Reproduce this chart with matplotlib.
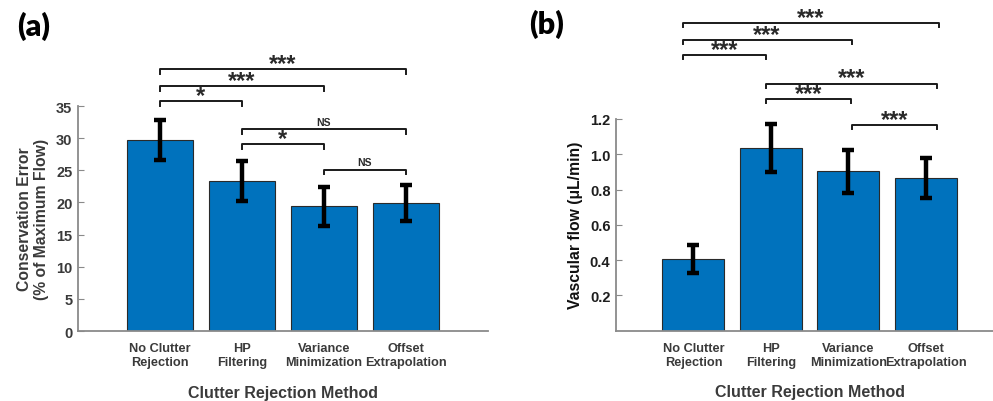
import numpy as np
import matplotlib
matplotlib.use("Agg")
import matplotlib.pyplot as plt

# data
methods = ["No Clutter\nRejection", "HP\nFiltering", "Variance\nMinimization", "Offset\nExtrapolation"]

cons_err = [29.7, 23.4, 19.4, 19.85]
cons_sd = [3.1, 3.1, 3.05, 2.8]

vflow = [0.407, 1.035, 0.904, 0.865]
vflow_sd = [0.078, 0.136, 0.121, 0.115]

# significance brackets: (x start, x end, height, label)
sig_a = [(1, 4, 40.7, "***"), (1, 3, 38.1, "***"), (1, 2, 35.8, "*"),
         (2, 4, 31.4, "NS"), (2, 3, 29.1, "*"), (3, 4, 25.1, "NS")]
sig_b = [(0.86, 4.17, 1.743, "***"), (0.86, 3.04, 1.646, "***"), (0.86, 1.94, 1.561, "***"),
         (1.94, 4.14, 1.401, "***"), (1.94, 3.03, 1.312, "***"), (3.05, 4.14, 1.165, "***")]

plt.rcParams['font.family'] = ['Liberation Sans', 'DejaVu Sans']
plt.rcParams['font.weight'] = 'bold'

bar_col = '#0072BD'
spine_col = '#8a8a8a'

fig = plt.figure(figsize=(9.93, 4.02), dpi=100)
ax1 = fig.add_axes([0.0785, 0.1741, 0.4129, 0.5597])
ax2 = fig.add_axes([0.6203, 0.1751, 0.3902, 0.5264])


def draw_panel(ax, vals, sd, sig, drop, tick_col):
    x = np.arange(1, len(vals) + 1)
    ax.bar(x, vals, width=0.8, color=bar_col, edgecolor='#2a2a2a', linewidth=0.8, zorder=2)
    ax.errorbar(x, vals, yerr=sd, fmt='none', ecolor='black', elinewidth=3.2,
                capsize=4, capthick=3.2, zorder=3)
    ax.set_xlim(0, 5)
    ax.set_xticks(x)
    ax.set_xticklabels(methods, fontsize=9.2, color='#3a3a3a', fontweight='bold')
    ax.tick_params(axis='x', length=0, pad=8)
    ax.tick_params(axis='y', direction='in', length=4, color=spine_col,
                   labelsize=10.5, labelcolor=tick_col, pad=4)
    for s in ['top', 'right']:
        ax.spines[s].set_visible(False)
    for s in ['left', 'bottom']:
        ax.spines[s].set_color(spine_col)
        ax.spines[s].set_linewidth(1.3)
    ax.set_xlabel("Clutter Rejection Method", fontsize=11.5, color='#3a3a3a',
                  fontweight='bold', labelpad=12)
    for x1, x2, h, lab in sig:
        ax.plot([x1, x1, x2, x2], [h - drop, h, h, h - drop], color='#1a1a1a',
                lw=1.4, clip_on=False, zorder=4)
        if lab == "NS":
            ax.annotate(lab, ((x1 + x2) / 2, h), xytext=(0, 3), textcoords='offset points',
                        ha='center', va='baseline', fontsize=7.5, color='#2a2a2a',
                        fontweight='bold', annotation_clip=False)
        else:
            ax.annotate(lab, ((x1 + x2) / 2, h), xytext=(0, -0.5), textcoords='offset points',
                        ha='center', va='baseline', fontsize=17, color='#2a2a2a',
                        fontweight='bold', annotation_clip=False)


draw_panel(ax1, cons_err, cons_sd, sig_a, 0.75, '#3a3a3a')
ax1.set_ylim(0, 35)
ax1.set_yticks(np.arange(0, 36, 5))
ax1.set_ylabel("Conservation Error\n(% of Maximum Flow)", fontsize=11.3, color='#3a3a3a',
               fontweight='bold', labelpad=5)

draw_panel(ax2, vflow, vflow_sd, sig_b, 0.023, '#1e1e1e')
ax2.set_ylim(0, 1.2)
ax2.set_yticks([0.2, 0.4, 0.6, 0.8, 1.0, 1.2])
ax2.set_yticklabels(["0.2", "0.4", "0.6", "0.8", "1.0", "1.2"])
ax2.set_ylabel("Vascular flow (\u03bcL/min)", fontsize=11.3, color='#111111',
               fontweight='bold', labelpad=5)

fig.text(0.017, 0.935, "(a)", fontsize=22, fontweight='heavy', family=['Lato', 'DejaVu Sans'],
         va='center', ha='left')
fig.text(0.533, 0.94, "(b)", fontsize=22, fontweight='heavy', family=['Lato', 'DejaVu Sans'],
         va='center', ha='left')

fig.savefig("out.png", dpi=100)
